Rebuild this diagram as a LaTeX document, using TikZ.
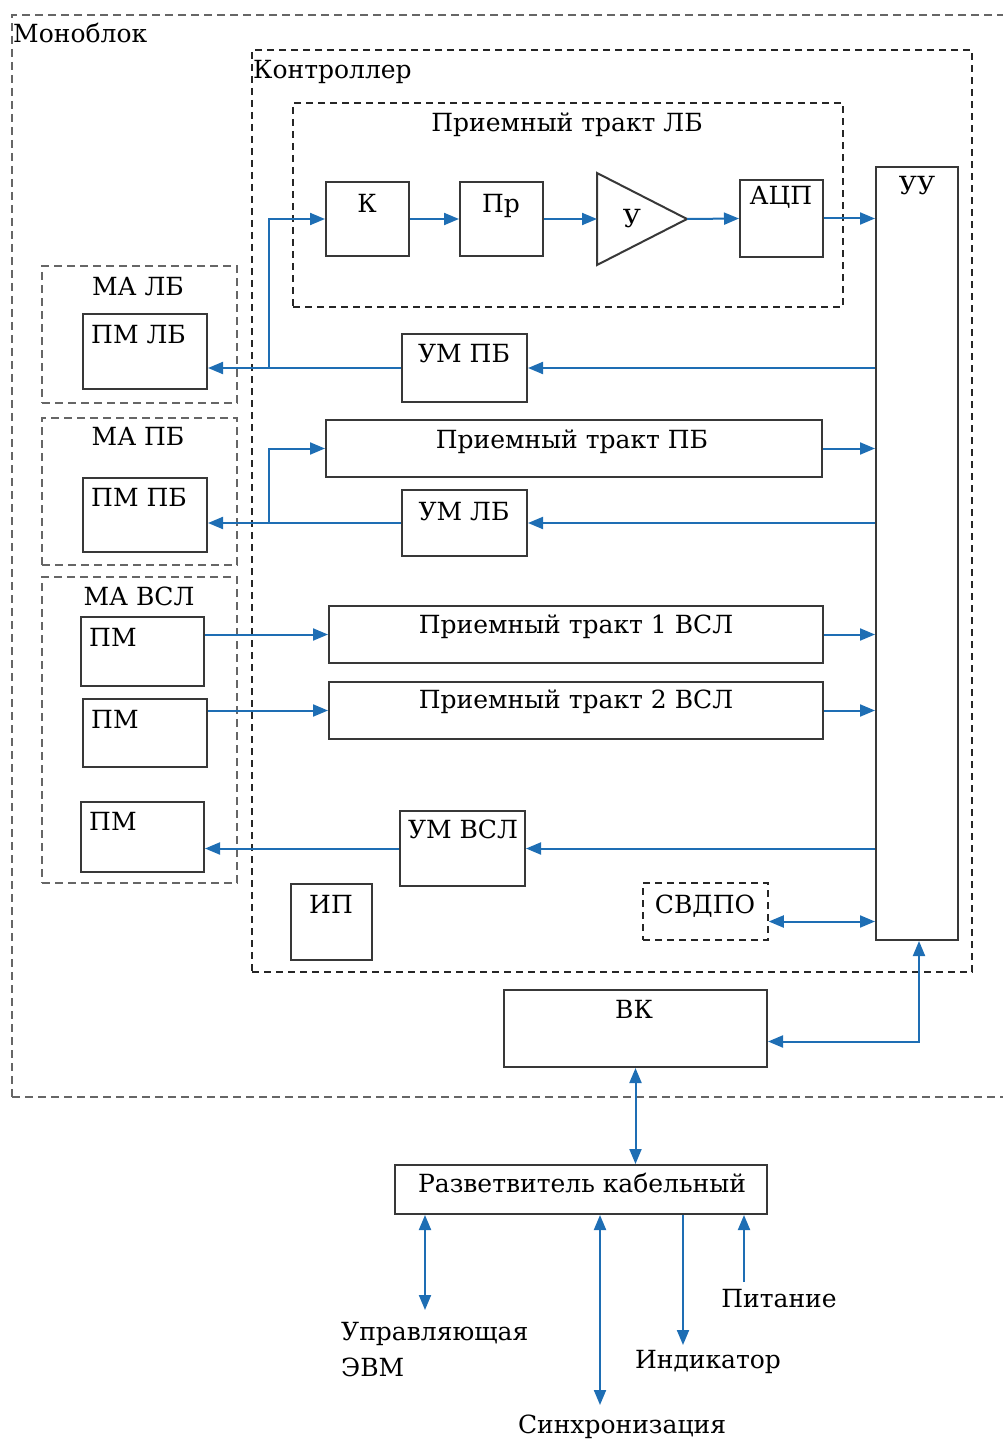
\documentclass[tikz,border=0pt]{standalone}
\usepackage{fontspec}
\setmainfont{DejaVu Serif}
\usetikzlibrary{arrows.meta,fit}
\definecolor{lnblue}{RGB}{30,110,180}
\begin{document}
\begin{tikzpicture}[x=1pt,y=-1pt,
  box/.style={draw=black!78, line width=2pt, inner sep=0pt},
  dbox/.style={draw=black!85, line width=1.5pt, dash pattern=on 7pt off 5pt, inner sep=0pt},
  gbox/.style={draw=black!60, line width=1.8pt, dash pattern=on 8pt off 5pt, inner sep=0pt},
  txt/.style={font=\fontsize{25}{36}\selectfont, inner sep=0pt, text=black},
  arr/.style={draw=lnblue, line width=2pt, -{Triangle[length=15pt,width=12pt]}},
  arrb/.style={draw=lnblue, line width=2pt, {Triangle[length=15pt,width=12pt]}-{Triangle[length=15pt,width=12pt]}},
]
\useasboundingbox (0,0) rectangle (1002,1439);
% containers
\node[gbox, fit={(12,15) (1014,1097)}] (MONO) {};
\node[dbox, fit={(252,50) (972,972)}] (CTRL) {};
\node[dbox, fit={(293,103) (843,307)}] (PTLB) {};
\node[gbox, fit={(42,266) (237,403)}] (MALB) {};
\node[gbox, fit={(42,418) (237,565)}] (MAPB) {};
\node[gbox, fit={(42,577) (237,883)}] (MAVSL) {};
% boxes
\node[box, fit={(326,182) (409,256)}] (K) {};
\node[box, fit={(460,182) (543,256)}] (Pr) {};
\coordinate (Uin) at (597,219);
\coordinate (Uout) at (687,219);
\draw[draw=black!78, line width=2pt, line join=miter] (597,173) -- (Uout) -- (597,265) -- cycle;
\node[box, fit={(740,180) (823,257)}] (ADC) {};
\node[box, fit={(876,167) (958,940)}] (UU) {};
\node[box, fit={(83,314) (207,389)}] (PMLB) {};
\node[box, fit={(402,334) (527,402)}] (UMPB) {};
\node[box, fit={(326,420) (822,477)}] (PTPB) {};
\node[box, fit={(83,478) (207,552)}] (PMPB) {};
\node[box, fit={(402,490) (527,556)}] (UMLB) {};
\node[box, fit={(81,617) (204,686)}] (PM1) {};
\node[box, fit={(329,606) (823,663)}] (PT1) {};
\node[box, fit={(83,699) (207,767)}] (PM2) {};
\node[box, fit={(329,682) (823,739)}] (PT2) {};
\node[box, fit={(81,802) (204,872)}] (PM3) {};
\node[box, fit={(400,811) (525,886)}] (UMVSL) {};
\node[box, fit={(291,884) (372,960)}] (IP) {};
\node[dbox, fit={(643,883) (768,940)}] (SVDPO) {};
\node[box, fit={(504,990) (767,1067)}] (VK) {};
\node[box, fit={(395,1165) (767,1214)}] (RK) {};
% labels
\node[txt, anchor=base west] (tMono) at (13,43) {Моноблок};
\node[txt, anchor=base west] (tCtrl) at (253,79) {Контроллер};
\node[txt, anchor=base] (tPTLB) at (567,132) {Приемный тракт ЛБ};
\node[txt, anchor=base] (tK) at (367,213) {К};
\node[txt, anchor=base] (tPr) at (501,213) {Пр};
\node[txt, anchor=base] (tU) at (632,228) {У};
\node[txt, anchor=base] (tADC) at (781,205) {АЦП};
\node[txt, anchor=base] (tUU) at (917,195) {УУ};
\node[txt, anchor=base] (tMALB) at (138,295) {МА ЛБ};
\node[txt, anchor=base west] (tPMLB) at (91,343) {ПМ ЛБ};
\node[txt, anchor=base] (tUMPB) at (464,362) {УМ ПБ};
\node[txt, anchor=base] (tMAPB) at (138,445) {МА ПБ};
\node[txt, anchor=base west] (tPMPB) at (91,506) {ПМ ПБ};
\node[txt, anchor=base] (tPTPB) at (572,448) {Приемный тракт ПБ};
\node[txt, anchor=base] (tUMLB) at (464,520) {УМ ЛБ};
\node[txt, anchor=base] (tMAVSL) at (139,605) {МА ВСЛ};
\node[txt, anchor=base west] (tPM1) at (89,646) {ПМ};
\node[txt, anchor=base west] (tPM2) at (91,728) {ПМ};
\node[txt, anchor=base west] (tPM3) at (89,830) {ПМ};
\node[txt, anchor=base] (tPT1) at (576,633) {Приемный тракт 1 ВСЛ};
\node[txt, anchor=base] (tPT2) at (576,708) {Приемный тракт 2 ВСЛ};
\node[txt, anchor=base] (tUMVSL) at (463,838) {УМ ВСЛ};
\node[txt, anchor=base] (tIP) at (331,913) {ИП};
\node[txt, anchor=base] (tSVDPO) at (705,913) {СВДПО};
\node[txt, anchor=base] (tVK) at (634,1018) {ВК};
\node[txt, anchor=base] (tRK) at (582,1192) {Разветвитель кабельный};
\node[txt, anchor=north west, align=left] (tEVM) at (341,1322) {Управляющая\\ЭВМ};
\node[txt, anchor=base] (tSync) at (622,1433) {Синхронизация};
\node[txt, anchor=base] (tInd) at (708,1368) {Индикатор};
\node[txt, anchor=base] (tPit) at (779,1307) {Питание};
% connectors
\draw[arr] (K) -- (Pr);
\draw[arr] (Pr.east) -- (Uin);
\draw[arr] (Uout) -- (ADC.west);
\draw[arr] (ADC.east) -- (ADC.east -| UU.west);
\coordinate (xbr) at (269,0);
\draw[arr] (UMPB.east -| UU.west) -- (UMPB.east);
\draw[arr] (UMPB.west) -- (UMPB.west -| PMLB.east);
\coordinate (j1) at (UMPB.west -| xbr);
\draw[arr] (j1) |- (K.west);
\draw[arr] (PTPB.east) -- (PTPB.east -| UU.west);
\draw[arr] (UMLB.east -| UU.west) -- (UMLB.east);
\draw[arr] (UMLB.west) -- (UMLB.west -| PMPB.east);
\coordinate (j2) at (UMLB.west -| xbr);
\draw[arr] (j2) |- (PTPB.west);
\draw[arr] (PT1.west -| PM1.east) -- (PT1.west);
\draw[arr] (PT1.east) -- (PT1.east -| UU.west);
\draw[arr] (PT2.west -| PM2.east) -- (PT2.west);
\draw[arr] (PT2.east) -- (PT2.east -| UU.west);
\draw[arr] (UMVSL.east -| UU.west) -- (UMVSL.east);
\draw[arr] (UMVSL.west) -- (UMVSL.west -| PM3.east);
\draw[arrb] ([yshift=-10pt]SVDPO.east) -- ([yshift=-10pt]SVDPO.east -| UU.west);
\draw[arrb] ([xshift=2pt]UU.south) |- ([yshift=-13pt]VK.east);
\draw[arrb] (VK.south) -- (VK.south |- RK.north);
\coordinate (evm) at (425,1310);
\coordinate (sync) at (600,1405);
\coordinate (ind) at (683,1345);
\coordinate (pit) at (744,1282);
\draw[arrb] (RK.south -| evm) -- (evm);
\draw[arrb] (RK.south -| sync) -- (sync);
\draw[arr] (RK.south -| ind) -- (ind);
\draw[arr] (pit) -- (RK.south -| pit);
\end{tikzpicture}
\end{document}
